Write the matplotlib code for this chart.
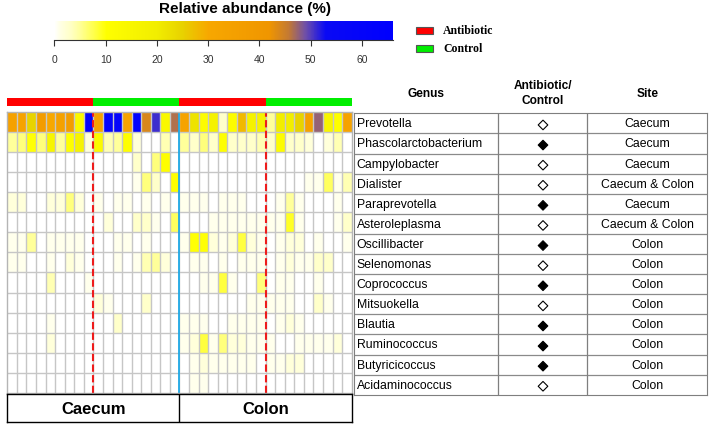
import numpy as np
import matplotlib
matplotlib.use('Agg')
import matplotlib.pyplot as plt
from matplotlib.colors import LinearSegmentedColormap, ListedColormap
from matplotlib.patches import Rectangle

plt.rcParams['font.family'] = ['Liberation Sans', 'DejaVu Sans']

W, H = 709, 427

genera = ['Prevotella', 'Phascolarctobacterium', 'Campylobacter', 'Dialister',
          'Paraprevotella', 'Asteroleplasma', 'Oscillibacter', 'Selenomonas',
          'Coprococcus', 'Mitsuokella', 'Blautia', 'Ruminococcus',
          'Butyricicoccus', 'Acidaminococcus']
# True = filled diamond, False = open diamond
filled = [False, True, False, False, True, False, True, False,
          True, False, True, True, True, False]
site_found = ['Caecum', 'Caecum', 'Caecum', 'Caecum & Colon', 'Caecum',
              'Caecum & Colon', 'Colon', 'Colon', 'Colon', 'Colon', 'Colon',
              'Colon', 'Colon', 'Colon']

sample_site = ['Caecum'] * 18 + ['Colon'] * 18
sample_group = (['Antibiotic'] * 9 + ['Control'] * 9) * 2
group_colors = {'Antibiotic': '#ff0000', 'Control': '#00ee00'}

# relative abundance (%), one row per genus, 36 samples
abundance = np.array([
    [35, 33, 25, 38, 30, 35, 37, 14, 60, 35, 62, 60, 33, 62, 44, 51, 14, 46.5,
     33, 22, 12, 18, 3, 12, 28, 18, 18, 5, 20, 20, 25, 35, 47.5, 16, 11, 33],
    [5, 6, 10, 6, 16, 5, 11, 17, 2, 13, 4, 5, 11, 2, 0, 0, 4, 0,
     5, 3, 6, 3, 11, 3, 3, 3, 4, 3, 12, 3, 3, 2, 0, 2, 4, 0],
    [0, 0, 0, 0, 0, 0, 0, 0, 0, 0, 0, 0, 0, 3, 0, 6, 11, 0,
     0, 0, 0, 0, 0, 0, 0, 0, 0, 0, 0, 0, 0, 0, 0, 0, 0, 0],
    [0, 0, 0, 0, 0, 0, 0, 0, 0, 0, 0, 0, 0, 1, 6, 3, 0, 11,
     0, 0, 0, 0, 0, 0, 0, 0, 0, 0, 0, 0, 0, 1, 1, 7, 1, 4],
    [2, 2, 0, 0, 2, 2, 6, 2, 0, 1, 0, 1, 1, 0, 1, 0, 1, 0,
     1, 1, 1, 0, 1, 1, 1, 0, 0, 0, 1, 5, 1, 0, 0, 0, 1, 0],
    [0, 0, 0, 0, 0, 0, 0, 0, 0, 0, 2, 0, 0, 3, 3, 1, 0, 7,
     0, 0, 0, 1, 1, 1, 1, 1, 1, 1, 1, 9, 1, 0, 0, 0, 1, 3],
    [1, 1, 5, 0, 1, 1, 1, 1, 0, 0, 0, 1, 1, 0, 1, 0, 0, 0,
     1, 10, 10, 2, 1, 2, 8, 2, 1, 0, 1, 2, 2, 0, 1, 0, 0, 1],
    [1, 1, 0, 0, 1, 0, 2, 1, 0, 0, 0, 1, 0, 1, 4, 5, 2, 0,
     0, 1, 1, 0, 1, 0, 1, 1, 1, 0, 1, 2, 1, 1, 3, 3, 0, 0],
    [0, 0, 0, 0, 4, 0, 0, 0, 1, 0, 0, 0, 0, 0, 0, 0, 0, 0,
     0, 0, 1, 1, 8, 1, 0, 0, 6, 0, 1, 1, 0, 0, 1, 0, 0, 0],
    [0, 0, 0, 0, 0, 0, 0, 0, 0, 2, 1, 0, 0, 0, 3, 0, 0, 0,
     0, 0, 0, 0, 0, 0, 0, 1, 1, 1, 1, 1, 0, 0, 3, 1, 0, 0],
    [0, 0, 0, 0, 1, 0, 0, 0, 0, 0, 0, 3, 0, 0, 0, 0, 0, 0,
     1, 1, 1, 0, 0, 1, 1, 1, 1, 0, 1, 2, 1, 0, 0, 0, 0, 0],
    [0, 0, 0, 0, 2, 0, 0, 0, 0, 0, 0, 0, 0, 0, 0, 0, 0, 0,
     1, 2, 8, 1, 6, 2, 2, 1, 1, 1, 0, 0, 1, 1, 1, 1, 2, 0],
    [0, 0, 0, 0, 0, 0, 0, 0, 0, 0, 0, 0, 0, 0, 0, 0, 0, 0,
     0, 1, 2, 1, 1, 1, 1, 1, 0, 1, 1, 2, 2, 0, 0, 0, 0, 0],
    [0, 0, 0, 0, 0, 0, 0, 0, 0, 0, 0, 0, 0, 0, 0, 0, 0, 0,
     0, 1, 1, 0, 0, 0, 0, 0, 0, 0, 0, 0, 0, 0, 0, 0, 0, 0],
])

vmax = 66
stops = [(0, '#ffffff'), (1, '#ffffe6'), (3, '#ffffc8'), (5, '#ffff98'),
         (8, '#ffff40'), (10, '#ffff00'), (20, '#f2ee00'), (25, '#e8d200'),
         (30, '#f8a800'), (42, '#f09600'), (46, '#c07838'), (49, '#7050a8'),
         (53, '#0a0af5'), (66, '#0000ff')]
cmap = LinearSegmentedColormap.from_list('abund', [(v / vmax, c) for v, c in stops])

fig = plt.figure(figsize=(W / 100, H / 100), dpi=100)


def px_axes(x0, y0, x1, y1):
    return fig.add_axes([x0 / W, 1 - y1 / H, (x1 - x0) / W, (y1 - y0) / H])


# heatmap
n_rows, n_cols = abundance.shape
ax = px_axes(7.3, 112.7, 351.7, 394)
ax.pcolormesh(abundance, cmap=cmap, vmin=0, vmax=vmax)
ax.set_xlim(0, n_cols)
ax.set_ylim(n_rows, 0)
ax.set_xticks([])
ax.set_yticks([])
ax.vlines(range(1, n_cols), 0, n_rows, color='#c6c6c6', lw=1.0)
ax.hlines(range(1, n_rows), 0, n_cols, color='#c6c6c6', lw=1.0)
for s in ax.spines.values():
    s.set_color('#b5b5b5')
    s.set_linewidth(1.0)
for i in range(1, n_cols):
    if sample_site[i] != sample_site[i - 1]:
        ax.axvline(i, color='#1fa9e6', lw=1.3)
    elif sample_group[i] != sample_group[i - 1]:
        ax.axvline(i, color='#ee1c1c', lw=1.5, ls=(0, (3.5, 1.6)))

# group bar on top
ax_g = px_axes(7.3, 99, 351.7, 106.7)
groups = list(group_colors)
codes = np.array([[groups.index(g) for g in sample_group]])
ax_g.imshow(codes, cmap=ListedColormap([group_colors[g] for g in groups]),
            aspect='auto', interpolation='nearest', extent=[0, n_cols, 0, 1])
ax_g.axis('off')

# site boxes below
ax_s = px_axes(7.3, 395, 351.7, 422.5)
ax_s.set_xlim(0, n_cols)
ax_s.set_ylim(0, 1)
ax_s.set_xticks([])
ax_s.set_yticks([])
for s in ax_s.spines.values():
    s.set_color('black')
    s.set_linewidth(1)
for site in ['Caecum', 'Colon']:
    idx = [i for i, s in enumerate(sample_site) if s == site]
    ax_s.text((idx[0] + idx[-1] + 1) / 2, 0.48, site, ha='center', va='center',
              fontsize=12, fontweight='bold')
ax_s.axvline(18, color='black', lw=1)

# colour scale
ax_c = px_axes(54.3, 22, 392.7, 40.7)
ax_c.imshow(np.linspace(0, vmax, 500)[None, :], cmap=cmap, vmin=0, vmax=vmax,
            aspect='auto', extent=[0, vmax, 0, 1])
ax_c.set_xlim(0, vmax)
ax_c.set_yticks([])
ax_c.set_xticks(range(0, 61, 10))
for k in ['top', 'right', 'left']:
    ax_c.spines[k].set_visible(False)
ax_c.spines['bottom'].set_color('#333333')
ax_c.tick_params(axis='x', length=4, color='#333333', labelsize=7.5,
                 labelcolor='#333333', pad=6)
fig.text(245 / W, 1 - 9.5 / H, 'Relative abundance (%)', ha='center',
         va='center', fontsize=11, fontweight='bold')

# legend in pixel coordinates
ax_o = fig.add_axes([0, 0, 1, 1], facecolor='none')
ax_o.set_xlim(0, W)
ax_o.set_ylim(H, 0)
ax_o.axis('off')
for k, g in enumerate(groups):
    y = 27.5 + k * 18
    ax_o.add_patch(Rectangle((416, y), 17, 7, facecolor=group_colors[g],
                             edgecolor='#555555', lw=0.8))
    ax_o.text(443, y + 3.8, g, va='center', ha='left', fontsize=8.5,
              fontweight='bold', family=['Liberation Serif', 'DejaVu Serif'])

# table
ax_t = px_axes(354, 114.3, 707.3, 395.7)
ax_t.set_xlim(354, 707.3)
ax_t.set_ylim(len(genera), 0)
ax_t.set_xticks([])
ax_t.set_yticks([])
for s in ax_t.spines.values():
    s.set_color('#7f7f7f')
ax_t.hlines(range(1, len(genera)), 354, 707.3, color='#8a8a8a', lw=0.9)
for x in [498.3, 587.3]:
    ax_t.axvline(x, color='#7f7f7f', lw=0.9)
ypos = np.arange(len(genera)) + 0.5
for y, name, site in zip(ypos, genera, site_found):
    ax_t.text(356.5, y, name, ha='left', va='center', fontsize=8.8)
    ax_t.text(647.5, y, site, ha='center', va='center', fontsize=8.8)
ax_t.scatter(np.full(len(genera), 543), ypos + 0.08, marker='D', s=24,
             facecolors=['black' if f else 'white' for f in filled],
             edgecolors='black', linewidths=0.8, zorder=3)
for x, head in [(426, 'Genus'), (543, 'Antibiotic/\nControl'), (648, 'Site')]:
    ax_t.text(x, -1.03, head, ha='center', va='center', fontsize=8.6,
              fontweight='bold', clip_on=False, linespacing=1.25)

fig.savefig('out.png', dpi=100)
